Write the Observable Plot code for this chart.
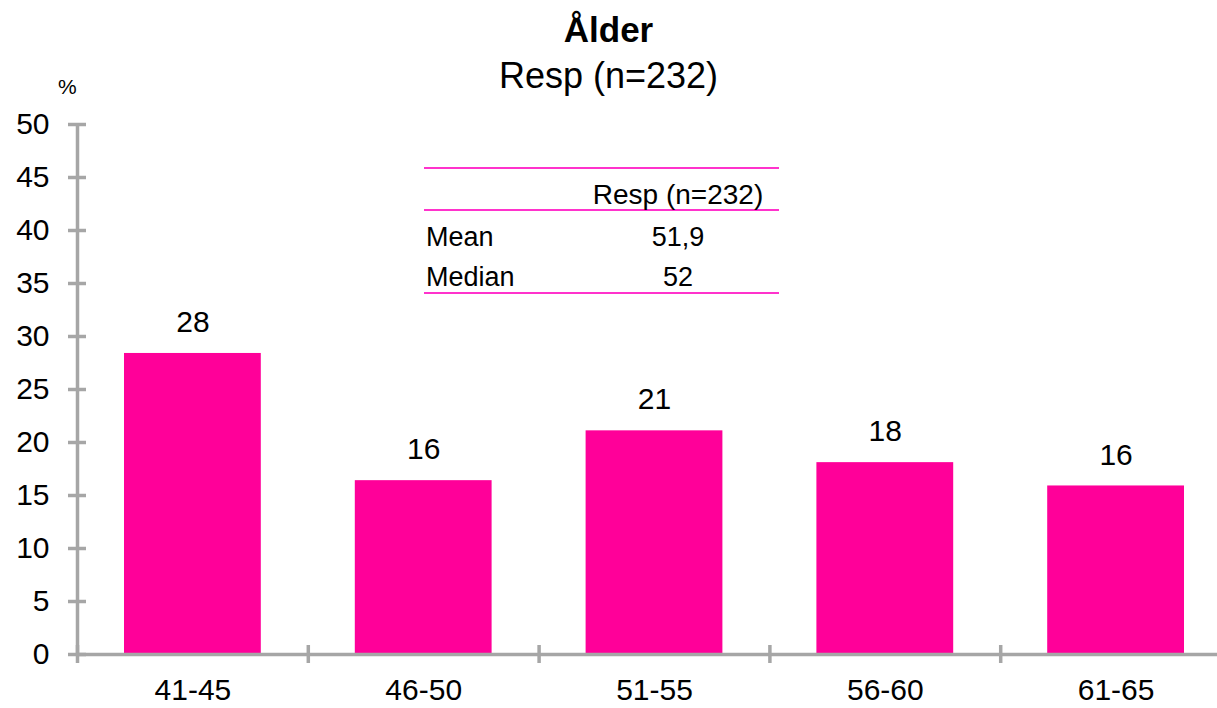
<!DOCTYPE html>
<html><head><meta charset="utf-8">
<script src="https://cdn.jsdelivr.net/npm/d3@7"></script>
<script src="https://cdn.jsdelivr.net/npm/@observablehq/plot@0.6"></script>
<style>
body{margin:0;background:#fff;font-family:"Liberation Sans",Arial,sans-serif;color:#000;}
#wrap{position:relative;width:1217px;height:708px;overflow:hidden;}
#head{height:100px;position:relative;text-align:center;}
#title{position:absolute;left:0;right:0;top:10px;font-weight:bold;font-size:35px;line-height:40px;}
#sub{position:absolute;left:0;right:0;top:56px;font-size:36px;line-height:40px;}
#pct{position:absolute;left:58px;top:75px;font-size:21px;line-height:24px;}
#stats{position:absolute;left:424px;top:167px;width:355px;border-collapse:collapse;font-size:27px;line-height:28px;}
#stats td{padding:0;}
#stats tr.h td{height:40px;vertical-align:bottom;border-top:2px solid #ff33cc;border-bottom:2px solid #ff33cc;}
#stats tr.h td.v{font-size:28px;}
#stats tr.r td{height:40px;vertical-align:bottom;}
#stats tr.last td{border-bottom:2px solid #ff33cc;padding-bottom:1px;}
#stats td.n{width:151px;text-align:left;padding-left:2px;}
#stats td.v{text-align:center;}
#chart{position:absolute;left:0;top:100px;}
</style>
</head><body>
<div id="wrap">
  <div id="head"><div id="title"></div><div id="sub"></div><div id="pct"></div></div>
  <div id="chart"></div>
  <table id="stats"></table>
</div>
<script>
const titleText = "Ålder";
const subtitleText = "Resp (n=232)";
const unitText = "%";
const categories = ["41-45", "46-50", "51-55", "56-60", "61-65"];
const values = [28.4, 16.4, 21.1, 18.1, 15.9];
const valueLabels = ["28", "16", "21", "18", "16"];
const yTicks = [0, 5, 10, 15, 20, 25, 30, 35, 40, 45, 50];
const statHeader = "Resp (n=232)";
const statNames = ["Mean", "Median"];
const statValues = ["51,9", "52"];

document.getElementById("title").textContent = titleText;
document.getElementById("sub").textContent = subtitleText;
document.getElementById("pct").textContent = unitText;

// stats table
const tbl = document.getElementById("stats");
{
  const tr = document.createElement("tr"); tr.className = "h";
  const a = document.createElement("td"); a.className = "n";
  const b = document.createElement("td"); b.className = "v"; b.textContent = statHeader;
  tr.append(a, b); tbl.append(tr);
  statNames.forEach((n, i) => {
    const r = document.createElement("tr");
    r.className = "r" + (i === statNames.length - 1 ? " last" : "");
    const c1 = document.createElement("td"); c1.className = "n"; c1.textContent = n;
    const c2 = document.createElement("td"); c2.className = "v"; c2.textContent = statValues[i];
    r.append(c1, c2); tbl.append(r);
  });
}

const data = categories.map((c, i) => ({cat: c, i, value: values[i], label: valueLabels[i]}));
const bounds = d3.range(categories.length + 1);
const gray = "#a6a6a6";
const font = "'Liberation Sans', Arial, sans-serif";

const chart = Plot.plot({
  width: 1217,
  height: 608,
  marginTop: 24,
  marginBottom: 54,
  marginLeft: 77,
  marginRight: 0,
  style: {fontFamily: font, fontSize: "29px", color: "#000", background: "#fff"},
  x: {type: "linear", domain: [0, categories.length], range: [77, 1231], axis: null},
  y: {domain: [0, 50], axis: null},
  marks: [
    Plot.rectY(data, {x1: d => d.i, x2: d => d.i + 1, y: "value", insetLeft: 47, insetRight: 47, fill: "#ff0099"}),
    Plot.ruleY([0], {stroke: gray, strokeWidth: 3.5}),
    Plot.ruleX([0], {stroke: gray, strokeWidth: 3.5}),
    Plot.ruleX(bounds, {x: d => d, y1: 0, y2: 0, insetTop: -9, insetBottom: -9, stroke: gray, strokeWidth: 3.5}),
    Plot.ruleY(yTicks, {y: d => d, x1: 0, x2: 0, insetLeft: -9, insetRight: -9, stroke: gray, strokeWidth: 3.5}),
    Plot.text(yTicks, {x: 0, y: d => d, text: d => String(d), textAnchor: "end", dx: -28, fontSize: 30, fill: "#000"}),
    Plot.text(data, {x: d => d.i + 0.5, y: 0, text: "cat", dy: 36, fontSize: 30, fill: "#000"}),
    Plot.text(data, {x: d => d.i + 0.5, y: "value", text: "label", dy: -31, fontSize: 30, fill: "#000"})
  ]
});
document.getElementById("chart").append(chart);
</script>
</body></html>
